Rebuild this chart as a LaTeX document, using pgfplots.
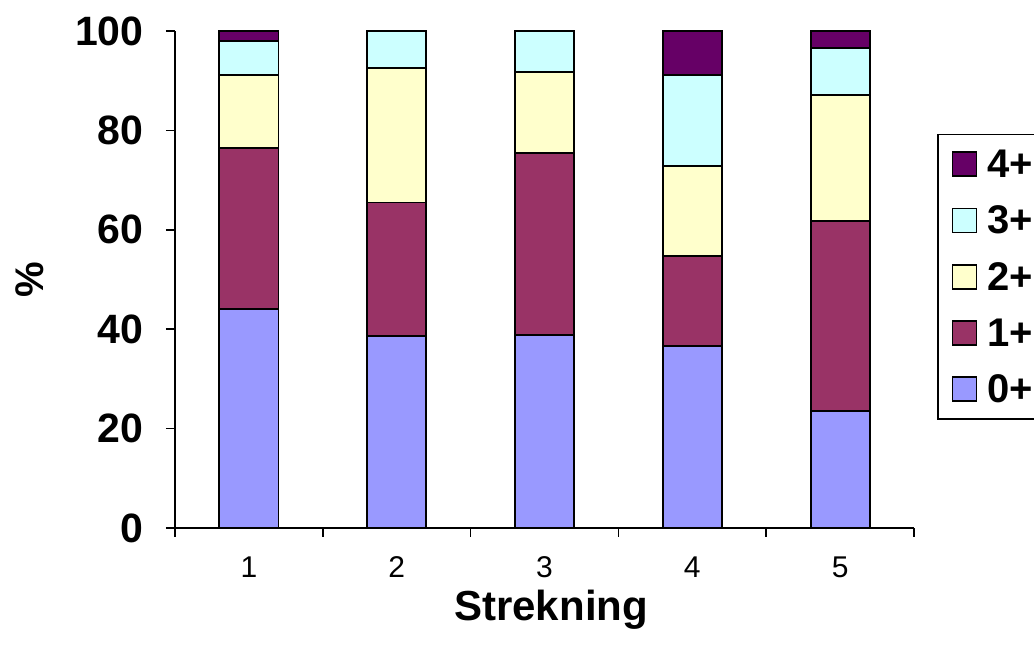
\documentclass[border=0pt]{standalone}
\usepackage{pgfplots}
\pgfplotsset{compat=1.18}
\usepackage{pgfplotstable}
\usepackage{fontspec}
\setmainfont{Liberation Sans}
\definecolor{c0}{HTML}{9999FF}
\definecolor{c1}{HTML}{993366}
\definecolor{c2}{HTML}{FFFFCC}
\definecolor{c3}{HTML}{CCFFFF}
\definecolor{c4}{HTML}{660066}
\pgfplotstableread{
x a0 a1 a2 a3 a4
1 44.1 32.3 14.8 6.8 2.0
2 38.6 26.9 27.0 7.5 0
3 38.9 36.6 16.2 8.3 0
4 36.6 18.1 18.1 18.4 8.8
5 23.5 38.2 25.4 9.4 3.5
}\datatable
\begin{document}
\begin{tikzpicture}[x=1pt,y=1pt]
\useasboundingbox (0,0) rectangle (1034,652);
\clip (0,0) rectangle (1034,652);
\begin{axis}[
  at={(175pt,124pt)}, anchor=south west,
  scale only axis, width=739pt, height=497pt,
  ybar stacked, bar width=59pt,
  xmin=0.5, xmax=5.5, ymin=0, ymax=100,
  axis x line*=bottom, axis y line*=left,
  axis line style={line width=1.6pt, -},
  xtick={0.5,1.5,...,5.5}, x tick label as interval,
  xticklabels={1,2,3,4,5},
  ytick={0,20,...,100},
  /pgf/number format/assume math mode=true,
  tick align=outside, major tick length=9pt,
  tick style={line width=1.6pt, black},
  x tick label style={font=\fontsize{30}{36}\selectfont, yshift=-16pt},
  y tick label style={font=\fontsize{41}{48}\selectfont\bfseries, xshift=-19pt},
  xlabel={Strekning},
  xlabel style={font=\fontsize{42}{50}\selectfont\bfseries, at={(rel axis cs:0.509,-0.165)}, anchor=center},
  ylabel={\%},
  ylabel style={font=\fontsize{40}{48}\selectfont\bfseries, at={(rel axis cs:-0.196,0.5)}, anchor=center},
  reverse legend,
  legend style={at={(rel axis cs:1.0311,0.793)}, anchor=north west, draw=black, line width=1.6pt,
    font=\fontsize{40}{46}\selectfont\bfseries, row sep=23pt, inner xsep=10pt, inner ysep=13pt},
  legend cell align=left,
  legend image code/.code={\draw[#1, line width=1.6pt] (2pt,-12pt) rectangle (26pt,12pt); \path (-2pt,0pt) (34pt,0pt);},
]
\addplot[fill=c0, draw=black, line width=1.8pt] table[x=x,y=a0]{\datatable};
\addplot[fill=c1, draw=black, line width=1.8pt] table[x=x,y=a1]{\datatable};
\addplot[fill=c2, draw=black, line width=1.8pt] table[x=x,y=a2]{\datatable};
\addplot[fill=c3, draw=black, line width=1.8pt] table[x=x,y=a3]{\datatable};
\addplot[fill=c4, draw=black, line width=1.8pt] table[x=x,y=a4]{\datatable};
\legend{0+,1+,2+,3+,4+}
\end{axis}
\end{tikzpicture}
\end{document}
